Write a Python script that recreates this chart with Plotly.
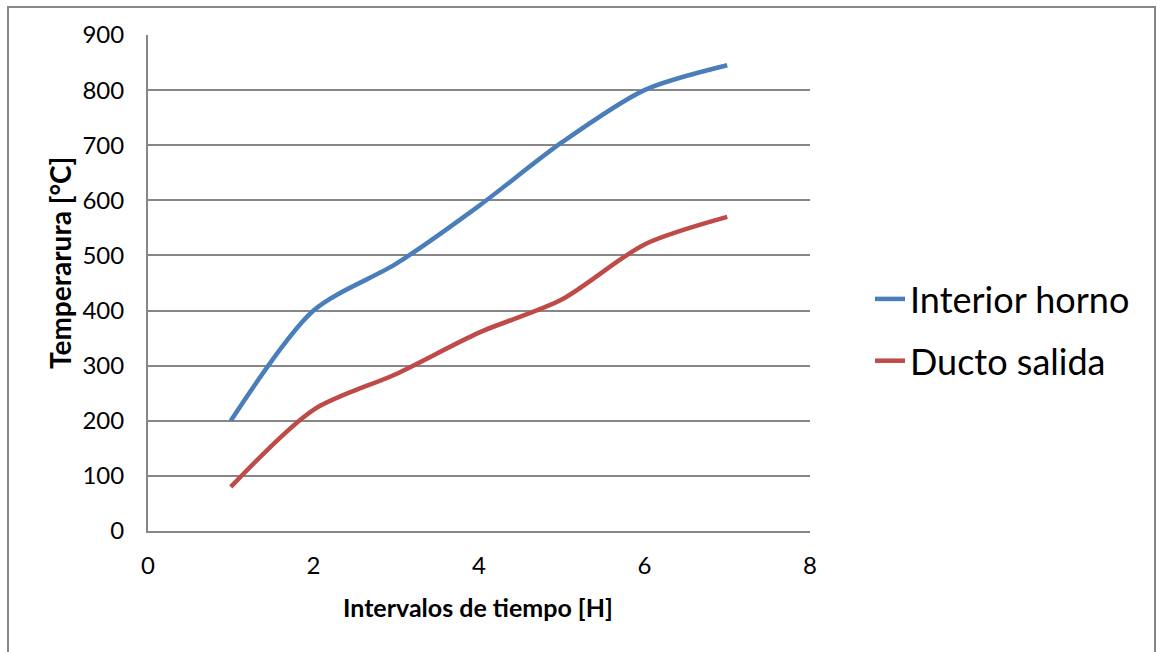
import plotly.graph_objects as go

x_vals = [1, 2, 3, 4, 5, 6, 7]
interior_horno = [200, 400, 485, 590, 705, 800, 845]
ducto_salida = [80, 220, 285, 360, 420, 520, 570]
x_ticks = [0, 2, 4, 6, 8]
y_ticks = [0, 100, 200, 300, 400, 500, 600, 700, 800, 900]

FONT = "Lato, Open Sans, sans-serif"

fig = go.Figure()
fig.add_trace(go.Scatter(x=x_vals, y=interior_horno, mode="lines", name="Interior horno",
                         legendgroup="a",
                         line=dict(color="#4A7EBB", width=4.5, shape="spline", smoothing=0.8)))
fig.add_trace(go.Scatter(x=x_vals, y=ducto_salida, mode="lines", name="Ducto salida",
                         legendgroup="b",
                         line=dict(color="#BE4B48", width=4.5, shape="spline", smoothing=0.8)))

L, R, T, B = 148, 810, 35, 531
W, H = R - L, B - T

fig.update_layout(
    width=1157, height=652,
    margin=dict(l=L, r=1157 - R, t=T, b=652 - B),
    paper_bgcolor="white", plot_bgcolor="white",
    font=dict(family=FONT, color="black"),
    showlegend=True,
    legend=dict(x=(870 - L) / W, y=(B - 330) / H, xanchor="left", yanchor="middle",
                font=dict(size=36, family=FONT), tracegroupgap=12,
                bgcolor="rgba(0,0,0,0)"),
    xaxis=dict(range=[0, 8], tickvals=x_ticks, showgrid=False, zeroline=False,
               showline=True, linecolor="#878787", linewidth=2,
               tickfont=dict(size=24, family=FONT), ticks="", ticklabelstandoff=12),
    yaxis=dict(range=[0, 900], tickvals=y_ticks, showgrid=True, gridcolor="#878787", gridwidth=1.5,
               zeroline=False, showline=True, linecolor="#878787", linewidth=2,
               tickfont=dict(size=24, family=FONT), ticks="", ticklabelstandoff=17),
    annotations=[
        dict(text="<b>Intervalos de tiempo [H]</b>", xref="paper", yref="paper",
             x=(478 - L) / W, y=(B - 607) / H, xanchor="center", yanchor="middle",
             showarrow=False, font=dict(size=25, family=FONT)),
        dict(text="<b>Temperarura [°C]</b>", xref="paper", yref="paper",
             x=(60 - L) / W, y=(B - 263) / H, xanchor="center", yanchor="middle",
             textangle=-90, showarrow=False, font=dict(size=28, family=FONT)),
    ],
    shapes=[dict(type="rect", xref="paper", yref="paper",
                 x0=(8 - L) / W, x1=(1155 - L) / W,
                 y0=-0.4, y1=(B - 7) / H,
                 line=dict(color="#888888", width=2), fillcolor="rgba(0,0,0,0)", layer="below")],
)

fig.write_html("out.html")
